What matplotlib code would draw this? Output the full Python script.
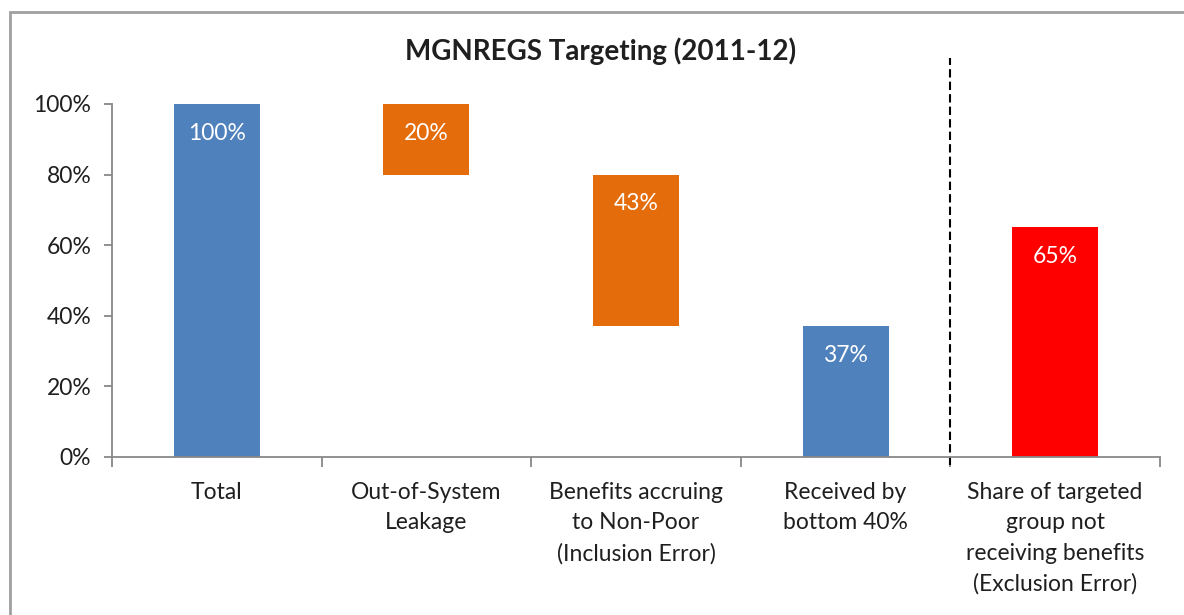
import matplotlib
matplotlib.use("Agg")
import matplotlib.pyplot as plt
from matplotlib.patches import Rectangle
from matplotlib.ticker import PercentFormatter

plt.rcParams['font.family'] = ['Lato', 'DejaVu Sans']

# waterfall data (fractions)
categories = ["Total", "Out-of-System\nLeakage", "Benefits accruing\nto Non-Poor\n(Inclusion Error)",
              "Received by\nbottom 40%", "Share of targeted\ngroup not\nreceiving benefits\n(Exclusion Error)"]
bar_bottoms = [0.0, 0.80, 0.37, 0.0, 0.0]
bar_heights = [1.00, 0.20, 0.43, 0.37, 0.65]
bar_labels = ["100%", "20%", "43%", "37%", "65%"]
bar_colors = ["#4F81BD", "#E46C0A", "#E46C0A", "#4F81BD", "#FF0000"]

TEXT = "#1f1f1f"

fig = plt.figure(figsize=(11.84, 6.15), dpi=100)
ax = fig.add_axes([0.0946, 0.257, 0.8851, 0.574])

x = list(range(len(categories)))
ax.bar(x, bar_heights, bottom=bar_bottoms, width=0.41, color=bar_colors)

for xi, b, h, lab in zip(x, bar_bottoms, bar_heights, bar_labels):
    ax.annotate(lab, (xi, b + h), xytext=(0, -21), textcoords="offset points",
                ha="center", va="center", color="white", fontsize=16.5)

ax.set_xlim(-0.5, len(categories) - 0.5)
ax.set_ylim(0, 1)
ax.yaxis.set_major_formatter(PercentFormatter(1.0, decimals=0))
ax.set_yticks([0, 0.2, 0.4, 0.6, 0.8, 1.0])

# category labels sit between the boundary ticks
ax.set_xticks([i - 0.5 for i in range(len(categories) + 1)])
ax.set_xticklabels([])
ax.set_xticks(x, minor=True)
ax.set_xticklabels(categories, minor=True, fontsize=16.5, color=TEXT, linespacing=1.55)
ax.tick_params(axis="x", which="minor", length=0, pad=18)
ax.tick_params(axis="x", which="major", length=7, color="#888888", width=1.3)
ax.tick_params(axis="y", length=6, color="#888888", width=1.3, labelsize=16.5,
               labelcolor=TEXT, pad=9)

for s in ["top", "right"]:
    ax.spines[s].set_visible(False)
for s in ["left", "bottom"]:
    ax.spines[s].set_color("#888888")
    ax.spines[s].set_linewidth(1.3)

# dashed separator before the exclusion error bar
ax.plot([3.5, 3.5], [-0.022, 1.13], color="black", linestyle=(0, (4, 2)), linewidth=1.5,
        clip_on=False)

ax.set_title("MGNREGS Targeting (2011-12)", fontsize=20, fontweight="bold",
             color=TEXT, x=0.466, y=1.10)

# outer chart border (runs off the right and bottom edges)
fig.patches.append(Rectangle((0.0085, -0.1), 1.2, 1.0805, transform=fig.transFigure,
                             fill=False, edgecolor="#a0a0a0", linewidth=2))

fig.savefig("out.png", dpi=100)
